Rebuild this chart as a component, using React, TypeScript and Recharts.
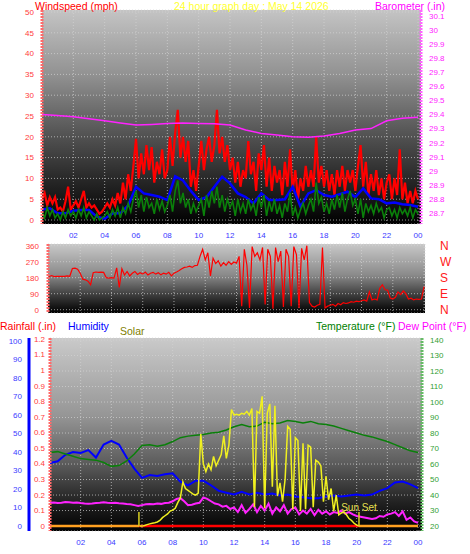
import React from 'react'
import { CartesianGrid, Line, LineChart, ReferenceLine, XAxis, YAxis } from 'recharts'

const FONT = '"Liberation Sans", Arial, sans-serif'

// ---- top panel: wind (mph, 10 min steps) and barometer (in, hourly) ----
const GUST = [
    5, 6.5, 3.5, 5.5, 4, 5.5, 2.5,
    3, 2, 4.5, 8, 2.5, 3.5,
    4.5, 3, 5, 7, 3, 4,
    3, 3.5, 2.5, 1.5, 2, 3,
    4, 3, 5, 3.5, 6.5, 4,
    9, 5, 11, 7, 13, 19.5,
    10, 16, 11, 18, 12, 17.5,
    9, 14, 11, 17, 10, 12,
    20, 13, 21, 26.5, 15, 20,
    14, 19, 8, 12, 7, 13,
    19, 12, 17, 20, 14, 18,
    26.5, 16, 20, 14, 18, 12,
    15, 9, 14, 8, 12, 10,
    19, 11, 14, 7, 16, 12,
    18, 8, 15, 7, 13, 9,
    12, 6, 14, 8, 17, 7,
    12, 5, 10, 7, 13, 8,
    12, 8, 20, 9, 13, 8,
    12, 7, 11, 6, 12, 8,
    13, 7, 12, 9, 12, 7,
    13, 18, 8, 14, 6, 11,
    7, 12, 6, 10, 5, 9,
    11, 5, 10, 6, 17, 5,
    9, 4, 7, 4, 7, 5,
]
const WIND = [
    2, 0.5, 3, 1, 2.5, 0.5, 1.5,
    0, 2, 0.5, 2.5, 1, 2,
    0.5, 2.5, 1, 3, 0.5, 2,
    1, 0, 1.5, 0, 0.5, 1,
    2, 0.5, 2.5, 1, 3, 0.5,
    3, 1.5, 4, 2, 5, 7,
    3, 6, 2, 5.5, 3, 4,
    1.5, 5, 2.5, 4.5, 2, 3.5,
    6, 2, 7, 9.5, 4, 6.5,
    3, 5, 1.5, 4, 2, 3.5,
    5, 1, 6, 3, 7, 4,
    8, 3, 6, 2, 5, 3,
    4.5, 1, 5, 2, 4, 1.5,
    5, 2.5, 4, 1, 5.5, 3,
    6, 1, 4.5, 2, 5, 1.5,
    3.5, 0.5, 4, 2, 6.5, 1,
    3, 0.5, 2.5, 4, 1.5, 3.5,
    5, 2, 9, 4, 5.5, 2,
    4, 1.5, 5, 2.5, 6, 3,
    6.5, 2, 5, 7, 3.5, 5,
    1.5, 5, 0.5, 4, 2, 3.5,
    1.5, 4, 2, 3, 0.5, 2.5,
    3, 1, 2.5, 0.5, 3, 1.5,
    2.5, 1, 3, 0.5, 2.5, 1.5,
]
// 30 min steps
const AVG = [
    2.5, 2.8, 1.6, 1.6, 2.2, 2.4, 2.4, 0.8, 0.3, 1.6, 1.6, 3.5,
    8, 6.4, 6, 5.6, 4.8, 10.5, 9.5, 7, 4.8, 5.5, 8, 10.4,
    8.8, 6.4, 5.5, 4, 6.4, 4.8, 4.8, 5, 8, 3.2, 6.4, 7.2,
    6, 5.6, 6.2, 6.8, 5.5, 7.6, 5.2, 5, 4, 4.2, 3.8, 3.6, 3.2,
]
const BARO = [
    29.4, 29.393, 29.385, 29.37, 29.356, 29.34, 29.325, 29.33, 29.337,
    29.34, 29.337, 29.335, 29.325, 29.29, 29.266, 29.254, 29.242, 29.238,
    29.247, 29.266, 29.29, 29.3, 29.356, 29.373, 29.38,
]

// ---- middle panel: wind direction (degrees, 10 min steps) ----
const DIR = [
    185, 192, 186, 188, 187, 188, 188, 190, 188, 232, 234, 228,
    205, 172, 168, 160, 140, 208, 212, 210, 211, 210, 180, 178,
    180, 178, 235, 125, 230, 195, 215, 190, 205, 215, 198, 208,
    200, 212, 195, 205, 210, 200, 208, 196, 206, 200, 210, 190,
    205, 212, 220, 230, 238, 240, 245, 238, 248, 250, 300, 340,
    280, 320, 190, 290, 260, 275, 245, 265, 250, 270, 255, 268,
    262, 300, 20, 340, 250, 10, 355, 300, 320, 280, 350, 30,
    340, 300, 5, 350, 270, 330, 15, 340, 300, 20, 355, 310,
    10, 345, 280, 360, 40, 20, 15, 25, 30, 350, 10, 20,
    25, 30, 20, 35, 28, 40, 35, 38, 45, 42, 48, 45,
    50, 55, 48, 100, 55, 60, 55, 120, 140, 112, 110, 66,
    60, 70, 100, 85, 105, 90, 60, 65, 55, 60, 58, 60, 130,
]

// ---- bottom panel ----
const RAIN = [0, 0, 0, 0, 0, 0, 0, 0, 0, 0, 0, 0, 0, 0, 0, 0, 0, 0, 0, 0, 0, 0, 0, 0, 0] // hourly
const HUM = [
    34, 35, 38.5, 40, 39.5, 41, 37, 44, 46, 44, 37, 31,
    26, 27.5, 27, 28, 28.5, 24, 22, 24.5, 24.5, 22, 19, 18,
    17, 18.5, 17, 18, 17, 17.5, 16.5, 17, 16, 15.5, 15, 15,
    16, 16.5, 16, 16.5, 17, 16.5, 17, 19, 20.5, 23.5, 24, 22.5, 20.5,
] // 30 min
const TEMP = [
    67.5, 68, 66.5, 65, 63.5, 63, 62.5, 61, 58.5, 59, 62, 66.5,
    72, 72.5, 71.5, 72.5, 74.5, 77, 78, 78.5, 79, 80, 80.5, 82,
    84, 85.5, 84, 84.5, 87, 86, 86.5, 88, 87.5, 86.5, 87.5, 86,
    85.5, 84.5, 83, 81.5, 80, 78.5, 77.5, 76, 74.5, 72.5, 70.5, 68.5, 67.5,
] // 30 min
const DEW = [
    35, 35.2, 34.8, 35, 35.5, 35.3, 35, 35.2, 34.8, 34.5, 34.3, 34.5,
    34.8, 35, 35.3, 35, 34.8, 35, 34.7, 34.5, 34.2, 34, 33.5, 33,
    33.5, 34, 34.2, 34, 34.5, 34.3, 34.8, 35,
    36, 37.5, 38, 36, 33.5, 33.8, 34.5, 35,
    38.5, 37.5, 36, 34.5, 34, 32.5, 33, 31,
    32, 29, 33.5, 28.5, 31, 34, 29, 33,
    30, 34.5, 28, 32, 29.5, 33.5, 28, 31,
    32, 27.5, 30, 28, 31, 27, 30.5, 28,
    29.5, 27.5, 29, 28.5, 30, 28, 29, 27.5,
    26.5, 26, 25.5, 25, 24.5, 25, 26.5, 26,
    27.5, 28, 29, 26.5, 29.5, 24, 25.5, 23,
    22,
] // 15 min
// 10 min steps from 05:50 to 20:10
const SOLAR = [
    0, 0, 3, 8, 12, 15, 18, 22, 30, 45, 55, 65, 80, 85, 95, 125, 150, 235,
    200, 190, 180, 170, 165, 175, 490, 330, 290, 330, 300, 370, 320, 350, 380, 480,
    360, 430, 620, 590, 595, 590, 600, 595, 610, 590, 625, 100, 610, 600, 690, 95,
    600, 650, 210, 640, 160, 230, 130, 250, 530, 515, 90, 470, 455, 80, 440, 90,
    430, 420, 100, 350, 340, 320, 130, 265, 140, 200, 80, 165, 60, 70, 75, 60,
    40, 30, 15, 5, 0,
]
const SOLAR_START_MIN = 350
const SUNRISE = 5.8
const SUNSET = 20.15
const SUN_MARK = 75

const HOUR_TICKS = [2, 4, 6, 8, 10, 12, 14, 16, 18, 20, 22, 24]
const WIND_TICKS = [0, 5, 10, 15, 20, 25, 30, 35, 40, 45, 50]
const BARO_TICKS = [28.7, 28.8, 28.9, 29, 29.1, 29.2, 29.3, 29.4, 29.5, 29.6, 29.7, 29.8, 29.9, 30, 30.1]
const DIR_TICKS = [0, 90, 180, 270, 360]
const COMPASS: Record<number, string> = { 0: 'N', 90: 'E', 180: 'S', 270: 'W', 360: 'N' }
const RAIN_TICKS = [0, 0.1, 0.2, 0.3, 0.4, 0.5, 0.6, 0.7, 0.8, 0.9, 1, 1.1, 1.2]
const HUM_TICKS = [0, 10, 20, 30, 40, 50, 60, 70, 80, 90, 100]
const TEMP_TICKS = [20, 30, 40, 50, 60, 70, 80, 90, 100, 110, 120, 130, 140]

const X1_MAX = 24.19
const X3_MAX = 24.26

type Series = { key: string; values: number[]; step: number; start?: number }

// rows keyed by minute so series with different sample steps share one table
function mergeSeries(list: Series[]) {
    const rows = new Map<number, Record<string, number>>()
    for (const s of list) {
        s.values.forEach((v, i) => {
            const min = (s.start ?? 0) + i * s.step
            const row = rows.get(min) ?? { hour: min / 60 }
            row[s.key] = v
            rows.set(min, row)
        })
    }
    return [...rows.entries()].sort((a, b) => a[0] - b[0]).map(([, r]) => r)
}

const windData = mergeSeries([
    { key: 'gust', values: GUST, step: 10 },
    { key: 'wind', values: WIND, step: 10 },
    { key: 'avg', values: AVG, step: 30 },
    { key: 'baro', values: BARO, step: 60 },
])
const dirData = mergeSeries([{ key: 'dir', values: DIR, step: 10 }])
const weatherData = mergeSeries([
    { key: 'rain', values: RAIN, step: 60 },
    { key: 'hum', values: HUM, step: 30 },
    { key: 'temp', values: TEMP, step: 30 },
    { key: 'dew', values: DEW, step: 15 },
    { key: 'solar', values: SOLAR, step: 10, start: SOLAR_START_MIN },
])

const hourLabel = (h: number) => String(h % 24).padStart(2, '0')
const oneDecimal = (v: number) => String(Math.round(v * 10) / 10)

const gridProps = {
    stroke: '#d4d4d4',
    strokeOpacity: 0.7,
    strokeDasharray: '1 2',
    fillOpacity: 1,
}
const lineBase = { dot: false, activeDot: false, isAnimationActive: false, connectNulls: true } as const
const tickFont = (fill: string, size = 8) => ({ fill, fontSize: size, fontFamily: FONT })

function Title({ x, y, color, children }: { x: number; y: number; color: string; children: React.ReactNode }) {
    return (
        <span
            style={{
                position: 'absolute',
                left: x,
                top: y,
                color,
                fontSize: 10.5,
                lineHeight: '12px',
                whiteSpace: 'nowrap',
            }}
        >
            {children}
        </span>
    )
}

export default function App() {
    return (
        <div
            style={{
                position: 'absolute',
                left: 0,
                top: 0,
                width: 470,
                height: 554,
                background: '#ffffff',
                fontFamily: FONT,
                overflow: 'hidden',
            }}
        >
            <div style={{ position: 'absolute', left: 0, top: 0 }}>
                <LineChart width={470} height={245} data={windData} margin={{ top: 10, right: 0, bottom: 0, left: 0 }}>
                    <defs>
                        <linearGradient id="bg1" x1="0" y1="0" x2="0" y2="1">
                            <stop offset="0%" stopColor="#c4c4c4" />
                            <stop offset="30%" stopColor="#929292" />
                            <stop offset="55%" stopColor="#5a5a5a" />
                            <stop offset="78%" stopColor="#2a2a2a" />
                            <stop offset="100%" stopColor="#000000" />
                        </linearGradient>
                    </defs>
                    <CartesianGrid {...gridProps} fill="url(#bg1)" />
                    <XAxis
                        dataKey="hour"
                        type="number"
                        domain={[0, X1_MAX]}
                        allowDataOverflow
                        ticks={HOUR_TICKS}
                        interval={0}
                        tickFormatter={hourLabel}
                        axisLine={false}
                        tickLine={false}
                        tick={tickFont('#3a3aff')}
                        height={21}
                    />
                    <YAxis
                        type="number"
                        domain={[-0.96, 50.48]}
                        allowDataOverflow
                        ticks={WIND_TICKS}
                        interval={0}
                        width={42}
                        tickSize={6}
                        tickMargin={2}
                        tickLine={false}
                        axisLine={{ stroke: '#ff6a6a', strokeWidth: 3, strokeDasharray: '2 1' }}
                        tick={tickFont('#ff3b3b')}
                    />
                    <YAxis
                        yAxisId="baro"
                        orientation="right"
                        type="number"
                        domain={[28.622, 30.143]}
                        allowDataOverflow
                        ticks={BARO_TICKS}
                        interval={0}
                        tickFormatter={oneDecimal}
                        width={49}
                        tickSize={6}
                        tickMargin={2}
                        tickLine={false}
                        axisLine={{ stroke: '#ff66ff', strokeWidth: 3, strokeDasharray: '2 1' }}
                        tick={tickFont('#ff22ff')}
                    />
                    <Line {...lineBase} dataKey="gust" stroke="#ff0000" strokeWidth={2.2} />
                    <Line {...lineBase} dataKey="avg" stroke="#0000ff" strokeWidth={2.5} />
                    <Line {...lineBase} dataKey="wind" stroke="#0a800a" strokeWidth={1.6} />
                    <Line {...lineBase} yAxisId="baro" dataKey="baro" stroke="#ff22ff" strokeWidth={1.5} />
                </LineChart>
            </div>

            <div style={{ position: 'absolute', left: 0, top: 236 }}>
                <LineChart width={470} height={80} data={dirData} margin={{ top: 8, right: 0, bottom: 3, left: 0 }}>
                    <defs>
                        <linearGradient id="bg2" x1="0" y1="0" x2="0" y2="1">
                            <stop offset="0%" stopColor="#c8c8c8" />
                            <stop offset="45%" stopColor="#8a8a8a" />
                            <stop offset="75%" stopColor="#3a3a3a" />
                            <stop offset="100%" stopColor="#000000" />
                        </linearGradient>
                    </defs>
                    <CartesianGrid {...gridProps} fill="url(#bg2)" />
                    <XAxis dataKey="hour" type="number" domain={[-0.06, 24.06]} allowDataOverflow ticks={HOUR_TICKS} interval={0} hide />
                    <YAxis
                        type="number"
                        domain={[-18.6, 369.6]}
                        allowDataOverflow
                        ticks={DIR_TICKS}
                        interval={0}
                        width={48}
                        tickSize={6}
                        tickMargin={3}
                        tickLine={false}
                        axisLine={{ stroke: '#ff6a6a', strokeWidth: 3, strokeDasharray: '2 1' }}
                        tick={tickFont('#ff3b3b')}
                    />
                    <YAxis
                        yAxisId="compass"
                        orientation="right"
                        type="number"
                        domain={[-18.6, 369.6]}
                        allowDataOverflow
                        ticks={DIR_TICKS}
                        interval={0}
                        tickFormatter={(v: number) => COMPASS[v]}
                        width={45}
                        tickSize={6}
                        tickMargin={9}
                        tickLine={false}
                        axisLine={false}
                        tick={tickFont('#ff2020', 12)}
                    />
                    <Line {...lineBase} dataKey="dir" stroke="#ff0000" strokeWidth={1.2} />
                </LineChart>
            </div>

            <div style={{ position: 'absolute', left: 0, top: 330 }}>
                <LineChart width={470} height={224} data={weatherData} margin={{ top: 8, right: 0, bottom: 0, left: 0 }}>
                    <defs>
                        <linearGradient id="bg3" x1="0" y1="0" x2="0" y2="1">
                            <stop offset="0%" stopColor="#cacaca" />
                            <stop offset="40%" stopColor="#969696" />
                            <stop offset="65%" stopColor="#5c5c5c" />
                            <stop offset="85%" stopColor="#222222" />
                            <stop offset="100%" stopColor="#000000" />
                        </linearGradient>
                        <linearGradient id="rainStroke" gradientUnits="userSpaceOnUse" x1="50" y1="0" x2="422" y2="0">
                            <stop offset={SUNRISE / X3_MAX} stopColor="#ffa020" />
                            <stop offset={SUNRISE / X3_MAX} stopColor="#ff0000" />
                            <stop offset={SUNSET / X3_MAX} stopColor="#ff0000" />
                            <stop offset={SUNSET / X3_MAX} stopColor="#ffa020" />
                        </linearGradient>
                    </defs>
                    <CartesianGrid {...gridProps} fill="url(#bg3)" />
                    <XAxis
                        dataKey="hour"
                        type="number"
                        domain={[0, X3_MAX]}
                        allowDataOverflow
                        ticks={HOUR_TICKS}
                        interval={0}
                        tickFormatter={hourLabel}
                        axisLine={false}
                        tickLine={false}
                        tick={tickFont('#3a3aff')}
                        height={23}
                    />
                    {/* left axes are stacked by id: "rain" sits next to the plot, "rh" outside it */}
                    <YAxis
                        yAxisId="rain"
                        type="number"
                        domain={[-0.032, 1.206]}
                        allowDataOverflow
                        ticks={RAIN_TICKS}
                        interval={0}
                        tickFormatter={oneDecimal}
                        width={21}
                        tickSize={3}
                        tickMargin={2}
                        tickLine={false}
                        axisLine={{ stroke: '#ff6a6a', strokeWidth: 3, strokeDasharray: '2 1' }}
                        tick={tickFont('#ff3b3b')}
                    />
                    <YAxis
                        yAxisId="rh"
                        type="number"
                        domain={[-2.7, 101.6]}
                        allowDataOverflow
                        ticks={HUM_TICKS}
                        interval={0}
                        width={29}
                        tickSize={5}
                        tickMargin={2}
                        tickLine={false}
                        axisLine={{ stroke: '#0000ff', strokeWidth: 3 }}
                        tick={tickFont('#3a3aff')}
                    />
                    <YAxis
                        orientation="right"
                        type="number"
                        domain={[16.8, 141.3]}
                        allowDataOverflow
                        ticks={TEMP_TICKS}
                        interval={0}
                        width={48}
                        tickSize={6}
                        tickMargin={2}
                        tickLine={false}
                        axisLine={{ stroke: '#66bb66', strokeWidth: 3, strokeDasharray: '2 1' }}
                        tick={tickFont('#33a033')}
                    />
                    <YAxis yAxisId="solar" type="number" domain={[-26, 1000]} allowDataOverflow hide />
                    <Line {...lineBase} yAxisId="rain" dataKey="rain" stroke="url(#rainStroke)" strokeWidth={2.5} />
                    <Line {...lineBase} yAxisId="rh" dataKey="hum" stroke="#0000ff" strokeWidth={2} />
                    <Line {...lineBase} dataKey="temp" stroke="#0a800a" strokeWidth={1.5} />
                    <Line {...lineBase} dataKey="dew" stroke="#ff22ff" strokeWidth={2} />
                    <Line {...lineBase} yAxisId="solar" dataKey="solar" stroke="#f0f020" strokeWidth={1.5} />
                    <ReferenceLine
                        yAxisId="solar"
                        segment={[{ x: SUNRISE, y: 0 }, { x: SUNRISE, y: SUN_MARK }]}
                        stroke="#d8d020"
                        strokeWidth={1.5}
                    />
                    <ReferenceLine
                        yAxisId="solar"
                        segment={[{ x: SUNSET, y: 0 }, { x: SUNSET, y: SUN_MARK }]}
                        stroke="#d8d020"
                        strokeWidth={1.5}
                        label={{ value: 'Sun Set', position: 'top', offset: 1, fill: '#e8e050', fontSize: 10, fontFamily: FONT }}
                    />
                </LineChart>
            </div>

            <Title x={35} y={0} color="#ff0000">Windspeed (mph)</Title>
            <Title x={174} y={0} color="#ffff30">24 hour graph day : May 14 2026</Title>
            <Title x={375} y={0} color="#ff00ff">Barometer (.in)</Title>
            <Title x={0} y={320} color="#ff0000">Rainfall (.in)</Title>
            <Title x={68} y={320} color="#0000ff">Humidity</Title>
            <Title x={120} y={325} color="#808000">Solar</Title>
            <Title x={316} y={320} color="#008000">Temperature (°F)</Title>
            <Title x={398} y={320} color="#ff00ff">Dew Point (°F)</Title>
        </div>
    )
}
